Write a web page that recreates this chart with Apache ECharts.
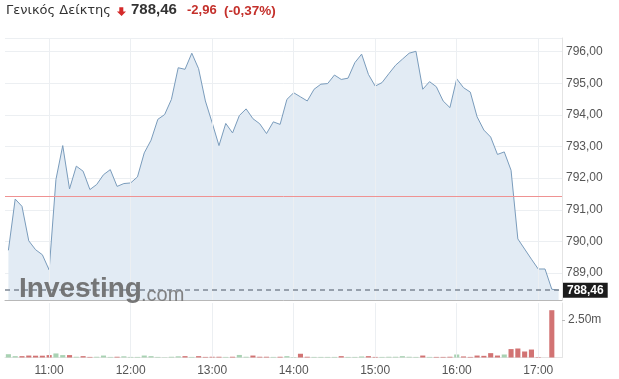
<!DOCTYPE html>
<html>
<head>
<meta charset="utf-8">
<script src="https://cdn.jsdelivr.net/npm/echarts@6/dist/echarts.min.js"></script>
<style>html,body{margin:0;padding:0;background:#fff}#c{width:619px;height:379px}</style>
</head>
<body>
<div id="c"></div>
<script>
const times = ['10:30','10:35','10:40','10:45','10:50','10:55','11:00','11:05','11:10','11:15','11:20','11:25',
'11:30','11:35','11:40','11:45','11:50','11:55','12:00','12:05','12:10','12:15','12:20','12:25',
'12:30','12:35','12:40','12:45','12:50','12:55','13:00','13:05','13:10','13:15','13:20','13:25',
'13:30','13:35','13:40','13:45','13:50','13:55','14:00','14:05','14:10','14:15','14:20','14:25',
'14:30','14:35','14:40','14:45','14:50','14:55','15:00','15:05','15:10','15:15','15:20','15:25',
'15:30','15:35','15:40','15:45','15:50','15:55','16:00','16:05','16:10','16:15','16:20','16:25',
'16:30','16:35','16:40','16:45','16:50','16:55','17:00','17:05','17:10','17:15'];
const hourLabels = ['11:00','12:00','13:00','14:00','15:00','16:00','17:00'];
const prices = [789.72,791.34,791.11,790.02,789.74,789.58,789.10,791.96,793.03,791.66,792.38,792.22,
791.64,791.80,792.11,792.27,791.74,791.83,791.85,792.04,792.80,793.20,793.86,794.01,
794.49,795.49,795.44,795.95,795.46,794.44,793.75,793.03,793.73,793.43,793.98,794.19,
793.88,793.72,793.41,793.78,793.70,794.49,794.70,794.57,794.44,794.81,794.97,794.99,
795.26,795.12,795.16,795.65,795.92,795.28,794.91,795.02,795.30,795.57,795.76,795.95,
796.01,794.81,795.05,794.89,794.44,794.23,795.14,794.86,794.72,793.94,793.52,793.30,
792.75,792.83,792.25,790.08,789.76,789.44,789.13,789.13,788.49,788.46];
const volumes = [0.22,0.09,0.09,0.13,0.12,0.12,0.16,0.27,0.16,0.16,0.05,0.09,
0.04,0.05,0.13,0.04,0.05,0.08,0.04,0.04,0.13,0.09,0.04,0.02,
0.05,0.08,0.09,0.04,0.09,0.04,0.05,0.05,0.04,0.05,0.17,0.05,
0.13,0.05,0.05,0.04,0.05,0.09,0.03,0.25,0.05,0.04,0.04,0.04,
0.04,0.09,0.04,0.04,0.07,0.09,0.04,0.04,0.05,0.05,0.09,0.05,
0.04,0.13,0.04,0.04,0.04,0.05,0.20,0.07,0.04,0.13,0.11,0.29,
0.13,0.20,0.56,0.60,0.40,0.53,0.03,0,3.15,0];
const prevClose = 791.42;
const titleName = 'Γενικός Δείκτης';
const lastText = '788,46';
const changeText = '-2,96';
const pctText = '(-0,37%)';

const fmt = v => v.toFixed(2).replace('.', ',');
const UP = '#a9d2b3', DOWN = '#d27373';
const PREV = '#ef9292';
const barData = volumes.map((v, i) => ({
  value: v,
  itemStyle: { color: (i === 0 || prices[i] >= prices[i - 1]) ? UP : DOWN }
}));
const gridLineStyle = { color: '#eceff2', type: 'solid', width: 1 };
const vLines = hourLabels.map(h => ({ xAxis: h }));
const FONT = 'Liberation Sans, Arial, sans-serif';

const chart = echarts.init(document.getElementById('c'), null, { renderer: 'canvas' });
chart.setOption({
  animation: false,
  backgroundColor: '#fff',
  textStyle: { fontFamily: FONT },
  grid: [
    { left: 5, right: 57, top: 38, bottom: 79 },
    { left: 5, right: 57, top: 303, bottom: 21.5 }
  ],
  xAxis: [
    { type: 'category', gridIndex: 0, data: times, boundaryGap: true,
      axisLine: { show: true, lineStyle: { color: '#b8b8b8' } },
      axisTick: { show: false }, axisLabel: { show: false }, splitLine: { show: false } },
    { type: 'category', gridIndex: 1, data: times, boundaryGap: true,
      axisLine: { show: true, lineStyle: { color: '#e4e4e4' } },
      axisTick: { show: false }, splitLine: { show: false },
      axisLabel: { color: '#555', fontSize: 12, fontFamily: FONT, margin: 7,
        interval: (idx, val) => hourLabels.indexOf(val) >= 0 } }
  ],
  yAxis: [
    { type: 'value', gridIndex: 0, position: 'right', min: 788.15, max: 796.43, splitNumber: 8,
      axisLine: { show: true, lineStyle: { color: '#e4e4e4' } },
      axisTick: { show: false },
      splitLine: { show: true, lineStyle: gridLineStyle },
      axisLabel: { color: '#555', fontSize: 12, fontFamily: FONT, margin: 4,
        showMinLabel: false, showMaxLabel: false, formatter: fmt } },
    { type: 'value', gridIndex: 1, position: 'right', min: 0, max: 3.63, interval: 2.5,
      axisLine: { show: true, lineStyle: { color: '#e4e4e4' } },
      axisTick: { show: true, length: 3, lineStyle: { color: '#bbb' } },
      splitLine: { show: false },
      axisLabel: { color: '#555', fontSize: 12, fontFamily: FONT, margin: 6,
        showMinLabel: false, showMaxLabel: false, formatter: v => v.toFixed(2) + 'm' } }
  ],
  series: [
    { type: 'line', xAxisIndex: 0, yAxisIndex: 0, data: prices, symbol: 'none', z: 2,
      lineStyle: { color: '#7a9cbc', width: 1 },
      areaStyle: { color: '#e2ebf4', opacity: 1, origin: 'start' },
      markLine: { silent: true, symbol: 'none', animation: false,
        lineStyle: gridLineStyle, label: { show: false }, data: vLines } },
    { type: 'line', xAxisIndex: 0, yAxisIndex: 0, data: [], z: 10,
      markLine: { silent: true, symbol: 'none', animation: false,
        lineStyle: { color: PREV, type: 'solid', width: 1, opacity: 1 }, label: { show: false },
        data: [{ yAxis: prevClose }] } },
    { type: 'line', xAxisIndex: 0, yAxisIndex: 0, data: [], z: 4,
      markLine: { silent: true, symbol: 'none', animation: false,
        lineStyle: { color: '#7d8894', type: [5, 4], width: 1.5 },
        label: { show: true, position: 'end', distance: 1, formatter: p => fmt(p.value),
          color: '#fff', backgroundColor: '#1c1c1c', fontWeight: 'bold', fontSize: 12,
          fontFamily: FONT, padding: [2, 4, 1, 4] },
        data: [{ yAxis: prices[prices.length - 1] }] } },
    { type: 'bar', xAxisIndex: 1, yAxisIndex: 1, data: barData, barCategoryGap: '25%',
      markLine: { silent: true, symbol: 'none', animation: false,
        lineStyle: gridLineStyle, label: { show: false }, data: vLines } }
  ],
  graphic: [
    { type: 'text', left: 6, top: 4, style: { text: titleName, font: '13px DejaVu Sans', fill: '#333' } },
    { type: 'polygon', shape: { points: [[119.3,7.3],[123.3,7.3],[123.3,11.5],[126,11.5],[121.6,15.9],[116.9,11.5],[119.3,11.5]] },
      style: { fill: '#d42a2a' } },
    { type: 'text', left: 131, top: 2, style: { text: lastText, font: 'bold 15px ' + FONT, fill: '#333' } },
    { type: 'text', left: 187, top: 4, style: { text: changeText, font: 'bold 13px ' + FONT, fill: '#c4302b' } },
    { type: 'text', left: 224, top: 4, style: { text: pctText, font: 'bold 13.5px ' + FONT, fill: '#c4302b' } },
    { type: 'text', left: 19, top: 275, z: 100, style: { text: 'Investing', font: 'bold 28px ' + FONT, fill: '#6b6b6b', opacity: 0.92 } },
    { type: 'text', left: 141, top: 285, z: 100, style: { text: '.com', font: '20px ' + FONT, fill: '#777', opacity: 0.92 } }
  ]
});
</script>
</body>
</html>
